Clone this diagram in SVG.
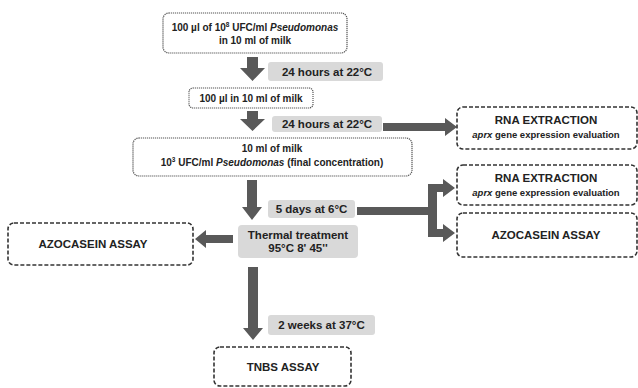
<svg xmlns="http://www.w3.org/2000/svg" width="638" height="388" viewBox="0 0 638 388">
<style>
text{font-family:"Liberation Sans",Arial,sans-serif;font-weight:bold;fill:#222;text-anchor:middle}
.t{font-size:10px}
.l{font-size:11.5px}
.h{font-size:11.5px}
.s{font-size:9.5px}
.dot{fill:#fff;stroke:#555;stroke-width:1.2;stroke-dasharray:1.2 0.8}
.dash{fill:#fff;stroke:#333;stroke-width:1.6;stroke-dasharray:4 2}
.lab{fill:#d9d9d9}
.arr{fill:#595959}
.sup{font-size:6.5px}
</style>
<rect width="638" height="388" fill="#fff"/>
<g id="connectors">
<polygon class="arr" points="247,57 258,57 258,68 265,68 252.5,81 240,68 247,68"/>
<polygon class="arr" points="247,111 258,111 258,119 265,119 252.5,131 240,119 247,119"/>
<polygon class="arr" points="247,180 257,180 257,207 262,207 252,220 242,207 247,207"/>
<polygon class="arr" points="248,267 258,267 258,328 263,328 253,340 243,328 248,328"/>
<polygon class="arr" points="233,235 233,243 206,243 206,248 195,239 206,230 206,235"/>
<polygon class="arr" points="383,123 445,123 445,118 457,127 445,136 445,131 383,131"/>
<polygon class="arr" points="357,207 428,207 428,184 443,184 443,179 455,188 443,197 443,192 437,192 437,229 443,229 443,224 455,233 443,242 443,237 428,237 428,215 357,215"/>
</g>
<g id="n1">
<rect class="dot" x="163" y="13" width="184" height="40" rx="6"/>
<text class="t" x="255" y="31">100 µl of 10<tspan class="sup" dy="-4">8</tspan><tspan dy="4"> UFC/ml </tspan><tspan font-style="italic">Pseudomonas</tspan></text>
<text class="t" x="255" y="44">in 10 ml of milk</text>
</g>
<g id="l1">
<rect class="lab" x="268" y="62" width="115" height="19" rx="3"/>
<text class="l" x="327" y="75.5">24 hours at 22°C</text>
</g>
<g id="n2">
<rect class="dot" x="189" y="88" width="124" height="20" rx="4"/>
<text class="t" x="251" y="101.5">100 µl in 10 ml of milk</text>
</g>
<g id="l2">
<rect class="lab" x="272" y="116" width="110" height="16" rx="3"/>
<text class="l" x="327" y="128">24 hours at 22°C</text>
</g>
<g id="n3">
<rect class="dot" x="133" y="138" width="279" height="38" rx="6"/>
<text class="t" x="272" y="152">10 ml of milk</text>
<text class="t" x="272" y="166">10<tspan class="sup" dy="-4">3</tspan><tspan dy="4"> UFC/ml </tspan><tspan font-style="italic">Pseudomonas</tspan> (final concentration)</text>
</g>
<g id="rna1">
<rect class="dash" x="457" y="107" width="180" height="42" rx="6"/>
<text class="h" x="546" y="124">RNA EXTRACTION</text>
<text class="s" x="546" y="137.5"><tspan font-style="italic">aprx</tspan> gene expression evaluation</text>
</g>
<g id="l3">
<rect class="lab" x="268" y="200" width="87" height="18" rx="3"/>
<text class="l" x="311.5" y="213">5 days at 6°C</text>
</g>
<g id="rna2">
<rect class="dash" x="457" y="165" width="180" height="40" rx="6"/>
<text class="h" x="546" y="182">RNA EXTRACTION</text>
<text class="s" x="546" y="195.5"><tspan font-style="italic">aprx</tspan> gene expression evaluation</text>
</g>
<g id="azo-right">
<rect class="dash" x="457" y="213" width="180" height="44" rx="6"/>
<text class="h" x="546" y="239">AZOCASEIN ASSAY</text>
</g>
<g id="thermal">
<rect class="lab" x="238" y="225" width="120" height="33" rx="4"/>
<text class="l" x="298" y="239">Thermal treatment</text>
<text class="l" x="298" y="252">95°C 8' 45''</text>
</g>
<g id="azo-left">
<rect class="dash" x="8" y="223" width="185" height="42" rx="6"/>
<text class="h" x="93" y="248">AZOCASEIN ASSAY</text>
</g>
<g id="l4">
<rect class="lab" x="268" y="315" width="107" height="20" rx="3"/>
<text class="l" x="321.5" y="329">2 weeks at 37°C</text>
</g>
<g id="tnbs">
<rect class="dash" x="214" y="347" width="137" height="39" rx="6"/>
<text class="h" x="283" y="371">TNBS ASSAY</text>
</g>
</svg>
